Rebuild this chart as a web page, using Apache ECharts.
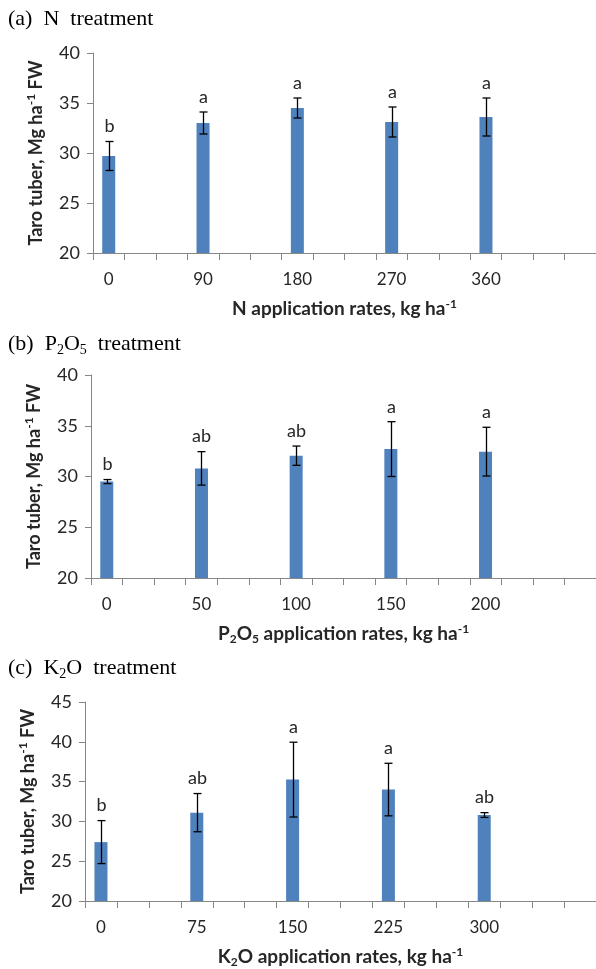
<!DOCTYPE html>
<html>
<head>
<meta charset="utf-8">
<script src="https://cdn.jsdelivr.net/npm/echarts@6/dist/echarts.min.js"></script>
<style>
html,body{margin:0;padding:0;background:#fff;}
#c{width:596px;height:969px;}
</style>
</head>
<body>
<div id="c"></div>
<script>
// ---- data ----
const nRates = ['0', '90', '180', '270', '360'];
const nMean = [29.7, 33.0, 34.5, 33.1, 33.6];
const nErr = [1.45, 1.1, 1.0, 1.5, 1.9];
const nLetters = ['b', 'a', 'a', 'a', 'a'];

const pRates = ['0', '50', '100', '150', '200'];
const pMean = [29.5, 30.8, 32.05, 32.7, 32.45];
const pErr = [0.2, 1.65, 0.95, 2.7, 2.4];
const pLetters = ['b', 'ab', 'ab', 'a', 'a'];

const kRates = ['0', '75', '150', '225', '300'];
const kMean = [27.4, 31.1, 35.25, 34.0, 30.8];
const kErr = [2.7, 2.4, 4.7, 3.3, 0.3];
const kLetters = ['b', 'ab', 'a', 'a', 'ab'];

const yTicksAB = [20, 25, 30, 35, 40];
const yTicksC = [20, 25, 30, 35, 40, 45];

// ---- layout / style ----
const SLOTS = 16, STEP = 3;
const BAR = '#4F81BD';
const AX = '#868686';
const TXT = '#262626';
const FONT = 'Lato, "Open Sans", sans-serif';
const SERIF = '"Liberation Serif", "DejaVu Serif", serif';

function cats(rates) {
  const a = new Array(SLOTS).fill('');
  rates.forEach((r, i) => { a[i * STEP] = r; });
  return a;
}
function barData(mean) {
  const a = new Array(SLOTS).fill('-');
  mean.forEach((v, i) => { a[i * STEP] = v; });
  return a;
}
function errData(mean, err) {
  return mean.map((v, i) => [i * STEP, v, err[i]]);
}

const grids = [
  { left: 93, top: 53, height: 200, width: 16 * 33.55 },
  { left: 91, top: 375, height: 203, width: 16 * 33.5 },
  { left: 85, top: 702, height: 200, width: 16 * 33.55 }
];

const titles = [
  { top: 6, text: '(a)  N  treatment' },
  { top: 331, text: '(b)  P{s|2}O{s|5}  treatment' },
  { top: 655, text: '(c)  K{s|2}O  treatment' }
];

const xNames = [
  'N application rates, kg ha{p|-1}',
  'P{s|2}O{s|5} application rates, kg ha{p|-1}',
  'K{s|2}O application rates, kg ha{p|-1}'
];
const yName = 'Taro tuber, Mg ha{p|-1} FW';

const nameRich = {
  p: { fontSize: 12, fontWeight: 'bold', fontFamily: FONT, color: TXT, lineHeight: 12, verticalAlign: 'top' },
  s: { fontSize: 12, fontWeight: 'bold', fontFamily: FONT, color: TXT, lineHeight: 12, verticalAlign: 'bottom' }
};

const panels = [
  { rates: nRates, mean: nMean, err: nErr, letters: nLetters, ticks: yTicksAB },
  { rates: pRates, mean: pMean, err: pErr, letters: pLetters, ticks: yTicksAB },
  { rates: kRates, mean: kMean, err: kErr, letters: kLetters, ticks: yTicksC }
];

const xAxis = [], yAxis = [], series = [];
panels.forEach((p, gi) => {
  xAxis.push({
    type: 'category', gridIndex: gi, data: cats(p.rates),
    boundaryGap: true,
    axisLine: { show: true, lineStyle: { color: AX, width: 1 } },
    axisTick: { show: true, interval: 0, alignWithLabel: false, length: 7, lineStyle: { color: AX, width: 1 } },
    axisLabel: { interval: 0, margin: 18, fontSize: 17, fontFamily: FONT, color: TXT },
    splitLine: { show: false },
    name: xNames[gi], nameLocation: 'middle', nameGap: 45,
    nameTextStyle: { fontSize: 19, fontWeight: 'bold', fontFamily: FONT, color: TXT, lineHeight: 22, rich: nameRich }
  });
  yAxis.push({
    type: 'value', gridIndex: gi,
    min: p.ticks[0], max: p.ticks[p.ticks.length - 1], interval: p.ticks[1] - p.ticks[0],
    axisLine: { show: true, lineStyle: { color: AX, width: 1 } },
    axisTick: { show: true, length: 6, lineStyle: { color: AX } },
    axisLabel: { margin: 13, fontSize: 18, fontFamily: FONT, color: TXT },
    splitLine: { show: false },
    name: yName, nameLocation: 'middle', nameGap: 46,
    nameTextStyle: { fontSize: 18, fontWeight: 'bold', fontFamily: FONT, color: TXT, lineHeight: 22, rich: nameRich }
  });
  series.push({
    type: 'bar', xAxisIndex: gi, yAxisIndex: gi,
    data: barData(p.mean), barWidth: 13,
    itemStyle: { color: BAR },
    animation: false
  });
  const letters = p.letters;
  series.push({
    type: 'custom', xAxisIndex: gi, yAxisIndex: gi,
    data: errData(p.mean, p.err),
    animation: false, z: 10,
    renderItem: function (params, api) {
      const x = api.value(0), m = api.value(1), e = api.value(2);
      const hi = api.coord([x, m + e]);
      const lo = api.coord([x, m - e]);
      const cx = Math.round(hi[0]) + 0.5;
      const st = { stroke: '#000', lineWidth: 1.3 };
      return {
        type: 'group',
        children: [
          { type: 'line', shape: { x1: cx, y1: hi[1], x2: cx, y2: lo[1] }, style: st },
          { type: 'line', shape: { x1: cx - 4, y1: hi[1], x2: cx + 4, y2: hi[1] }, style: st },
          { type: 'line', shape: { x1: cx - 4, y1: lo[1], x2: cx + 4, y2: lo[1] }, style: st },
          { type: 'text', style: { text: letters[params.dataIndex], x: cx, y: hi[1] - 6,
              textAlign: 'center', textVerticalAlign: 'bottom',
              font: '18px ' + FONT, fill: TXT } }
        ]
      };
    }
  });
});

const chart = echarts.init(document.getElementById('c'), null, { renderer: 'canvas' });
chart.setOption({
  animation: false,
  backgroundColor: '#fff',
  title: titles.map(t => ({
    text: t.text, left: 8, top: t.top, padding: 0,
    textStyle: {
      fontFamily: SERIF, fontSize: 22, fontWeight: 'normal', color: '#000', lineHeight: 26,
      rich: { s: { fontFamily: SERIF, fontSize: 14, color: '#000', lineHeight: 14, verticalAlign: 'bottom' } }
    }
  })),
  grid: grids,
  xAxis: xAxis,
  yAxis: yAxis,
  series: series
});
</script>
</body>
</html>
